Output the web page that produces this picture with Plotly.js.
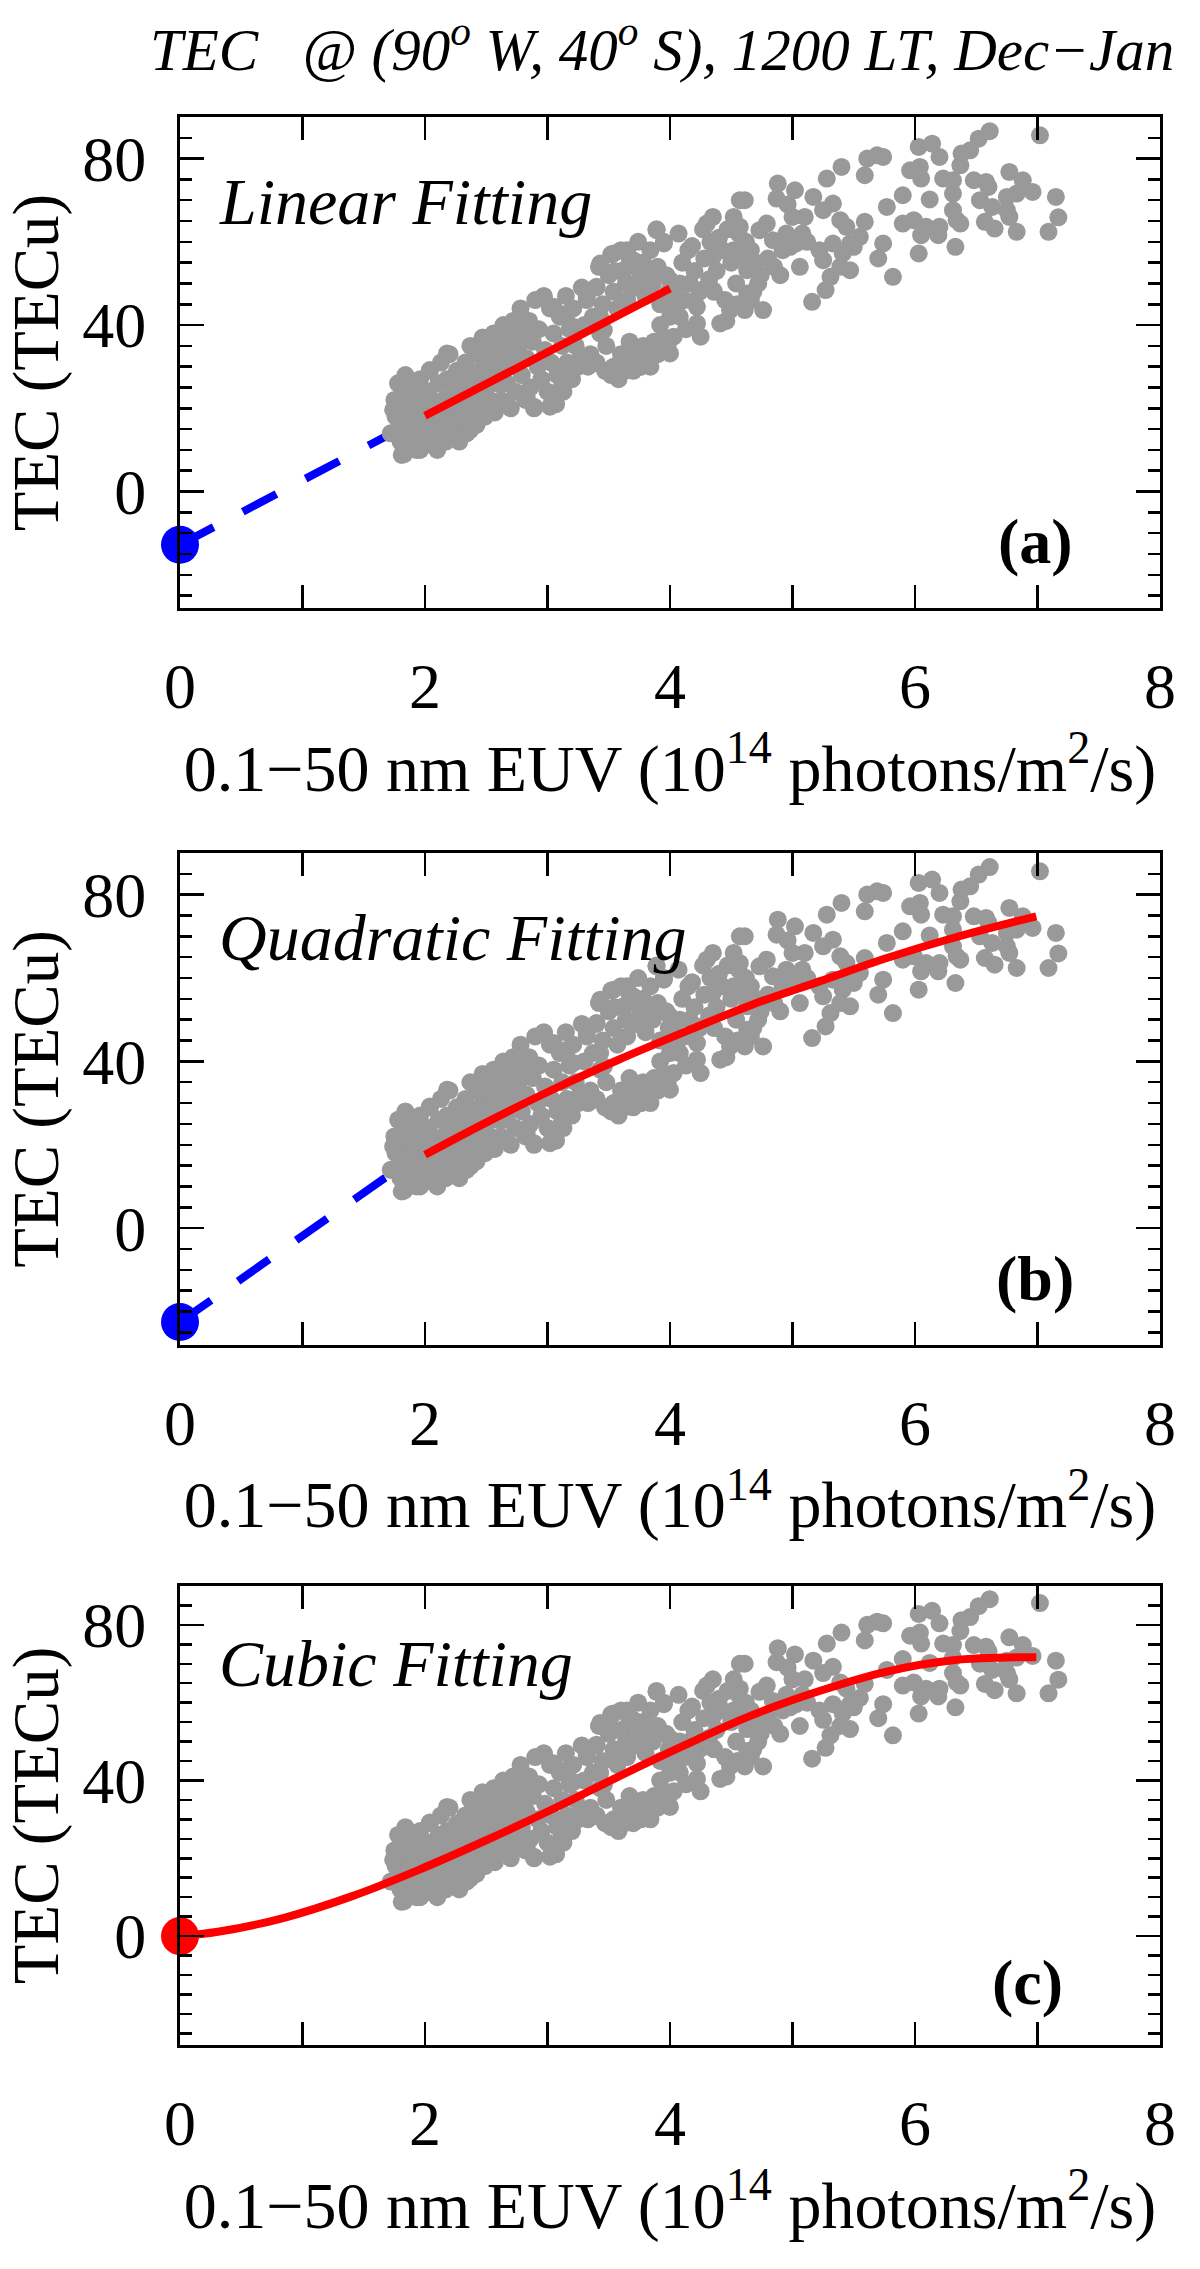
<!DOCTYPE html>
<html>
<head>
<meta charset="utf-8">
<script src="https://cdn.plot.ly/plotly-3.0.1.min.js"></script>
<style>
  html, body { margin: 0; padding: 0; background: #ffffff; }
  #chart { width: 1200px; height: 2269px; }
</style>
</head>
<body>
<div id="chart"></div>
<script>
// ---------------- DATA ----------------
// Gray scatter: 0.1-50 nm EUV flux (10^14 photons/m^2/s) vs TEC (TECu); same points in all three panels
const euvX = [
  // x 1.72-2.0
  1.74,1.76,1.75,1.78,1.80,1.80,1.81,1.82,1.83,1.84,1.86,1.87,1.88,1.88,1.90,1.91,1.92,1.93,1.94,1.95,1.96,1.97,1.98,1.99,2.00,
  // x 2.0-2.3
  2.02,2.03,2.04,2.05,2.07,2.08,2.10,2.11,2.12,2.13,2.14,2.15,2.17,2.18,2.19,2.20,2.21,2.22,2.24,2.25,2.26,2.27,2.28,2.29,2.30,
  // x 2.3-2.6
  2.32,2.33,2.34,2.35,2.37,2.38,2.39,2.40,2.42,2.43,2.44,2.45,2.47,2.48,2.49,2.50,2.52,2.53,2.54,2.56,2.57,2.58,2.59,2.60,
  // x 2.6-3.0
  2.62,2.63,2.64,2.66,2.67,2.68,2.70,2.72,2.73,2.74,2.76,2.78,2.79,2.80,2.82,2.83,2.85,2.86,2.88,2.89,2.90,2.92,2.93,2.95,2.97,2.98,3.00,
  // x 3.0-3.5
  3.02,3.03,3.05,3.07,3.08,3.10,3.12,3.13,3.15,3.16,3.18,3.20,3.21,3.23,3.25,3.27,3.28,3.30,3.32,3.33,3.35,3.37,3.40,3.40,3.42,3.43,3.45,3.47,3.48,3.50,
  // x 3.5-4.0 upper branch
  3.52,3.54,3.55,3.57,3.60,3.62,3.64,3.65,3.67,3.70,3.72,3.74,3.76,3.78,3.80,3.82,3.84,3.86,3.89,3.90,3.92,3.95,3.97,3.99,
  // x 3.5-4.0 lower branch
  3.52,3.55,3.58,3.60,3.62,3.65,3.67,3.70,3.73,3.76,3.78,3.81,3.84,3.87,3.90,3.92,3.95,3.98,4.00,
  // edges of the lower cloud
  1.81,1.72,1.74,1.80,1.96,2.12,2.18,2.37,2.29,1.91,2.04,2.18,2.40,2.53,2.51,2.45,2.61,2.64,2.72,2.80,2.86,2.78,2.97,3.05,3.16,
  3.21,2.83,2.89,3.02,3.10,3.16,3.27,3.40,3.54,3.67,3.81,3.89,3.51,3.65,3.76,4.00,4.03,3.32,3.40,3.43,3.46,3.43,3.54,3.65,3.70,
  3.78,3.89,3.95,3.62,3.65,3.84,4.00,4.08,4.16,4.25,4.03,4.08,4.30,4.35,4.52,4.57,4.35,4.52,4.35,4.49,4.63,4.22,4.22,4.41,4.25,
  // x 4.0-4.57
  4.02,4.05,4.07,4.10,4.12,4.13,4.15,4.18,4.20,4.24,4.27,4.28,4.32,4.33,4.36,4.38,4.40,4.43,4.45,4.46,4.47,4.50,4.54,4.56,4.55,
  // upper cloud x > 4.57
  7.02,6.61,6.52,6.03,6.14,6.20,5.69,5.74,5.61,5.59,5.40,5.28,4.88,5.02,4.87,4.61,5.96,6.04,6.05,5.90,6.12,6.38,6.45,6.37,6.31,
  6.23,6.31,6.48,6.58,6.60,6.77,6.88,6.96,6.83,6.75,7.15,7.17,7.09,6.83,6.65,6.57,6.53,6.63,6.75,6.77,6.31,6.34,6.20,6.19,6.37,
  6.33,6.03,5.90,5.99,6.09,6.05,5.82,5.70,5.74,5.77,5.59,5.55,5.50,5.17,5.25,5.33,5.39,5.44,5.47,5.33,5.22,5.25,5.41,5.39,5.47,
  5.31,5.27,5.16,4.98,5.03,4.92,4.84,4.73,4.79,4.90,4.76,4.61,4.68,4.72,4.63,4.60,4.57,
  4.62,4.66,4.70,4.74,4.66,4.80,4.85,4.95,5.08,5.10,5.12,5.06,5.00,4.96
];
const tecY = [
  14,18,22,26,12,16,20,24,9,28,13,17,21,11,25,15,19,10,23,13,27,17,21,11,15,
  19,24,29,12,16,21,10,26,14,31,18,22,12,27,16,33,20,24,14,18,29,22,12,26,17,
  21,31,14,25,35,19,28,23,16,33,27,21,37,30,18,25,33,22,28,38,19,31,26,35,
  22,29,40,33,26,37,20,41,31,24,35,44,28,38,22,32,41,25,36,20,46,30,39,27,47,34,24,
  44,31,38,21,28,42,35,24,47,31,39,27,44,35,30,32,49,40,46,30,33,42,49,31,54,38,45,29,35,52,
  57,48,53,44,58,53,50,46,56,55,49,60,52,55,47,51,58,50,63,54,45,60,52,48,
  28,30,27,33,29,31,36,29,33,30,35,34,30,36,33,40,37,35,42,
  8.8,14.0,19.6,26.0,10.0,11.6,13.2,14.8,18.0,26.0,29.2,33.2,34.8,36.8,33.2,29.2,26.0,21.2,40.4,41.2,38.8,35.6,46.8,44.4,42.8,
  39.6,22.8,20.4,20.4,24.4,27.6,32.4,30.8,30.0,30.8,34.0,35.6,28.4,29.2,30.0,33.2,37.2,46.8,49.2,42.0,38.8,54.8,57.2,58.0,55.6,
  54.8,62.8,59.6,53.2,50.0,51.6,50.8,50.0,50.0,48.4,43.6,42.0,64.4,66.0,66.0,70.0,56.4,58.0,48.4,43.6,47.6,44.4,40.4,40.4,37.2,
  47,44,62,55,46,39,58,59,53,48,63,56,51,60,48,53,61,58,46,41,63,55,50,62,45,
  85.6,86.6,84.8,82.8,83.6,80.4,80.8,80.4,80.0,76.0,78.0,75.2,74.0,72.4,70.4,70.0,77.2,78.0,75.2,71.2,70.2,81.2,82.0,78.4,71.6,
  75.2,74.8,74.8,74.4,73.2,76.8,74.8,72.0,71.6,70.8,70.8,65.9,62.4,62.4,63.2,64.8,70.0,68.4,67.6,66.0,67.6,65.2,63.6,61.6,64.4,
  58.8,57.2,64.4,65.2,63.6,61.6,51.6,56.0,59.6,68.4,64.8,61.2,58.8,70.8,67.6,69.2,65.2,63.6,59.6,59.6,58.0,55.6,57.2,54.0,53.2,
  51.6,48.4,45.6,58.8,59.6,58.0,60.4,62.8,64.4,52.0,43.6,43.6,48.0,50.0,53.2,56.4,63.6,
  60,58,55,52,46,56,54,62,62,66,60,54,66,69
];

// Panel (a): linear fit (red, data range) and its extrapolation (blue dashed) to x = 0
const linFitX = [2.0, 4.0];
const linFitY = [18.2, 48.8];
const linExtX = [0, 2.0];
const linExtY = [-12.8, 18.2];

// Panel (b): quadratic fit and extrapolation
const quadFitX = [2.00, 2.49, 3.04, 3.58, 4.13, 4.67, 5.22, 5.77, 6.31, 6.99];
const quadFitY = [17.6, 25.2, 33.2, 40.4, 47.2, 53.6, 59.2, 64.8, 69.6, 74.8];
const quadExtX = [0, 0.47, 1.21, 1.67, 2.0];
const quadExtY = [-22.5, -12.8, 2.8, 12.0, 17.6];

// Panel (c): cubic fit through the origin
const cubicFitX = [0, 0.31, 0.85, 1.40, 1.94, 2.49, 3.04, 3.58, 4.13, 4.67, 5.22, 5.77, 6.31, 6.99];
const cubicFitY = [0, 1.1, 4.7, 10.2, 16.9, 24.5, 32.6, 41.0, 49.2, 56.8, 63.0, 68.0, 70.9, 71.7];

// Intercept markers
const interceptA = -12.8;
const interceptB = -22.5;
const interceptC = 0;

// Axis ticks and labels
const xRange = [0, 8];
const yRange = [-28, 90];
const yLabelVals = [0, 40, 80];
const yLongTickVals = [-20, 20, 60];
const fitNames = ['Linear Fitting', 'Quadratic Fitting', 'Cubic Fitting'];
const panelTags = ['(a)', '(b)', '(c)'];
const xTitle = '0.1\u221250 nm EUV (10<sup>14</sup> photons/m<sup>2</sup>/s)';
const yTitle = 'TEC (TECu)';
const mainTitle = '<i>TEC\u00a0\u00a0\u00a0@ (90<sup>o</sup> W, 40<sup>o</sup> S), 1200 LT, Dec\u2212Jan</i>';

// ---------------- STYLE ----------------
const FONT = 'Liberation Serif';
const GRAY = '#999999';
const RED = '#ff0000';
const BLUE = '#0000ff';
const DASH = '38px,33px';

function scatterTrace(xa, ya) {
  return { x: euvX, y: tecY, xaxis: xa, yaxis: ya, type: 'scatter', mode: 'markers',
    marker: { color: GRAY, size: 18, line: { width: 0 } }, hoverinfo: 'skip', showlegend: false };
}
function lineTrace(x, y, xa, ya, color, dash, shape) {
  return { x: x, y: y, xaxis: xa, yaxis: ya, type: 'scatter', mode: 'lines',
    line: { color: color, width: 8, dash: dash || 'solid', shape: shape || 'linear', smoothing: 1 },
    hoverinfo: 'skip', showlegend: false };
}
function dotTrace(yv, xa, ya, color) {
  return { x: [0], y: [yv], xaxis: xa, yaxis: ya, type: 'scatter', mode: 'markers',
    marker: { color: color, size: 38 }, cliponaxis: false, hoverinfo: 'skip', showlegend: false };
}

const traces = [
  lineTrace(linExtX, linExtY, 'x', 'y', BLUE, DASH),
  scatterTrace('x', 'y'),
  lineTrace(linFitX, linFitY, 'x', 'y', RED),
  dotTrace(interceptA, 'x', 'y', BLUE),

  lineTrace(quadExtX, quadExtY, 'x2', 'y2', BLUE, DASH),
  scatterTrace('x2', 'y2'),
  lineTrace(quadFitX, quadFitY, 'x2', 'y2', RED, 'solid', 'spline'),
  dotTrace(interceptB, 'x2', 'y2', BLUE),

  scatterTrace('x3', 'y3'),
  lineTrace(cubicFitX, cubicFitY, 'x3', 'y3', RED, 'solid', 'spline'),
  dotTrace(interceptC, 'x3', 'y3', RED)
];

function xAxis(anchor) {
  return {
    domain: [0, 1], anchor: anchor, range: xRange, fixedrange: true,
    tickmode: 'linear', tick0: 0, dtick: 2,
    ticks: 'inside', ticklen: 23, tickwidth: 2.5, tickcolor: '#000',
    minor: { tickmode: 'linear', tick0: 0, dtick: 1, ticks: 'inside', ticklen: 23, tickwidth: 2.5, tickcolor: '#000', showgrid: false },
    showline: true, linewidth: 3, linecolor: '#000', mirror: 'ticks',
    showgrid: false, zeroline: false,
    tickfont: { family: FONT, size: 64, color: '#000' },
    ticklabelstandoff: 20,
    title: { text: xTitle, font: { family: FONT, size: 66, color: '#000' }, standoff: 20 }
  };
}
function yAxis(anchor, domain) {
  return {
    domain: domain, anchor: anchor, range: yRange, fixedrange: true,
    tickmode: 'array', tickvals: yLabelVals,
    ticks: 'inside', ticklen: 24, tickwidth: 2.5, tickcolor: '#000',
    minor: { tickmode: 'linear', tick0: 0, dtick: 5, ticks: 'inside', ticklen: 12, tickwidth: 2.5, tickcolor: '#000', showgrid: false },
    showline: true, linewidth: 3, linecolor: '#000', mirror: 'ticks',
    showgrid: false, zeroline: false,
    tickfont: { family: FONT, size: 64, color: '#000' },
    ticklabelstandoff: 18,
    title: { text: yTitle, font: { family: FONT, size: 65, color: '#000' }, standoff: 17 }
  };
}
// extra unlabeled long ticks every 20 (at -20, 20, 60) on an overlaying axis
function yLongTicks(anchor, over) {
  return {
    overlaying: over, anchor: anchor, side: 'left', range: yRange, fixedrange: true,
    tickmode: 'array', tickvals: yLongTickVals, showticklabels: false,
    ticks: 'inside', ticklen: 24, tickwidth: 2.5, tickcolor: '#000',
    showline: false, mirror: 'ticks', showgrid: false, zeroline: false
  };
}

const panelRefs = [['x', 'y'], ['x2', 'y2'], ['x3', 'y3']];
const annotations = [];
panelRefs.forEach(function (r, i) {
  annotations.push({ xref: r[0], yref: r[1], x: 0.3, y: (i === 2 ? 70.1 : 69.8), xanchor: 'left', yanchor: 'middle',
    text: '<i>' + fitNames[i] + '</i>', showarrow: false, font: { family: FONT, size: 66, color: '#000' } });
  annotations.push({ xref: r[0], yref: r[1], x: (i === 2 ? 6.92 : 6.98), y: -12, xanchor: 'center', yanchor: 'middle',
    text: '<b>' + panelTags[i] + '</b>', showarrow: false, font: { family: FONT, size: 64, color: '#000' } });
});

const layout = {
  width: 1200, height: 2269,
  margin: { l: 180, r: 40, t: 117, b: 224 },
  paper_bgcolor: '#ffffff', plot_bgcolor: '#ffffff',
  showlegend: false,
  title: { text: mainTitle, font: { family: FONT, size: 59, color: '#000' },
    xref: 'container', x: 150 / 1200, xanchor: 'left',
    yref: 'container', y: (2269 - 70) / 2269, yanchor: 'bottom' },
  xaxis: xAxis('y'),
  yaxis: yAxis('x', [0.7453, 1.0]),
  xaxis2: xAxis('y2'),
  yaxis2: yAxis('x2', [0.3631, 0.6183]),
  xaxis3: xAxis('y3'),
  yaxis3: yAxis('x3', [0.0, 0.2381]),
  yaxis4: yLongTicks('x', 'y'),
  yaxis5: yLongTicks('x2', 'y2'),
  yaxis6: yLongTicks('x3', 'y3'),
  annotations: annotations
};

Plotly.newPlot('chart', traces, layout, { displayModeBar: false, staticPlot: true });
</script>
</body>
</html>
